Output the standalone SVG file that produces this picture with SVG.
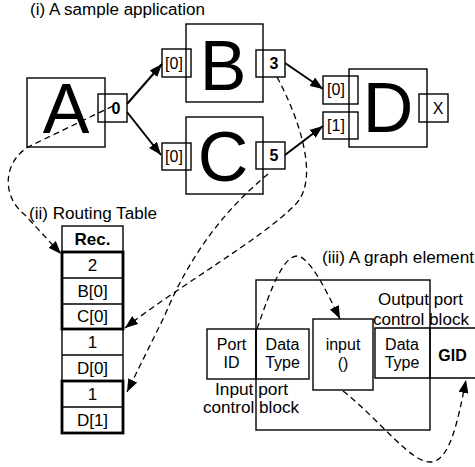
<svg xmlns="http://www.w3.org/2000/svg" width="475" height="467" viewBox="0 0 475 467">
<style>
text{font-family:"Liberation Sans",Arial,sans-serif;fill:#000}
.box{fill:none;stroke:#000;stroke-width:1.4}
.thick{fill:none;stroke:#000;stroke-width:2.8}
.big{font-size:70px;text-anchor:middle}
.port{font-size:16px;text-anchor:middle}
.pb{font-size:16px;text-anchor:middle;font-weight:bold}
.lbl{font-size:16px}
.tb{font-size:17px;text-anchor:middle}
.ge{font-size:16px;text-anchor:middle}
.solid{fill:none;stroke:#000;stroke-width:2}
.dash{fill:none;stroke:#000;stroke-width:1.3;stroke-dasharray:6,4}
</style>
<defs>
<marker id="ah" markerUnits="userSpaceOnUse" markerWidth="14" markerHeight="10" refX="13" refY="5" orient="auto">
<path d="M0,0 L13,5 L0,10 z" fill="#000"/>
</marker>
</defs>

<text class="lbl" x="30" y="15" textLength="175" lengthAdjust="spacingAndGlyphs">(i) A sample application</text>
<text class="lbl" x="29" y="219" textLength="128" lengthAdjust="spacingAndGlyphs">(ii) Routing Table</text>
<text class="lbl" x="322" y="263" textLength="152" lengthAdjust="spacingAndGlyphs">(iii) A graph element</text>

<g id="A">
<rect class="box" x="27" y="78" width="78" height="69"/>
<text class="big" x="66" y="133">A</text>
<rect class="box" x="98" y="94" width="29" height="28"/>
<text class="pb" x="116" y="114">0</text>
</g>
<g id="B">
<rect class="box" x="186" y="24" width="77" height="78"/>
<text class="big" x="223" y="90">B</text>
<rect class="box" x="162" y="49" width="29" height="28"/>
<text class="port" x="174" y="69">[0]</text>
<rect class="box" x="256" y="50" width="29" height="27"/>
<text class="pb" x="274" y="69">3</text>
</g>
<g id="C">
<rect class="box" x="186" y="117" width="77" height="77"/>
<text class="big" x="223" y="181">C</text>
<rect class="box" x="162" y="143" width="29" height="27"/>
<text class="port" x="174" y="162">[0]</text>
<rect class="box" x="256" y="142" width="29" height="27"/>
<text class="pb" x="274" y="161">5</text>
</g>
<g id="D">
<rect class="box" x="349" y="69" width="78" height="78"/>
<text class="big" x="388" y="132">D</text>
<rect class="box" x="323" y="76" width="35" height="28"/>
<text class="port" x="336" y="95">[0]</text>
<rect class="box" x="323" y="112" width="35" height="27"/>
<text class="port" x="336" y="131">[1]</text>
<rect class="box" x="419" y="94" width="29" height="28"/>
<text class="port" x="438" y="114">X</text>
</g>

<g id="routing-table">
<rect class="box" x="62" y="226" width="61" height="207"/>
<line class="box" x1="62" y1="278" x2="123" y2="278"/>
<line class="box" x1="62" y1="304" x2="123" y2="304"/>
<line class="box" x1="62" y1="355" x2="123" y2="355"/>
<line class="box" x1="62" y1="407" x2="123" y2="407"/>
<rect class="thick" x="62" y="252" width="61" height="77"/>
<rect class="thick" x="62" y="381" width="61" height="52"/>
<text class="tb" x="92.5" y="245" font-weight="bold">Rec.</text>
<text class="tb" x="92.5" y="271">2</text>
<text class="tb" x="92.5" y="297">B[0]</text>
<text class="tb" x="92.5" y="322">C[0]</text>
<text class="tb" x="92.5" y="348">1</text>
<text class="tb" x="92.5" y="374">D[0]</text>
<text class="tb" x="92.5" y="400">1</text>
<text class="tb" x="92.5" y="426">D[1]</text>
</g>

<g id="graph-element">
<rect class="box" x="256" y="280" width="174" height="150"/>
<rect class="box" x="207" y="329" width="49" height="50"/>
<rect class="box" x="256" y="329" width="53" height="50"/>
<rect class="box" x="313" y="319" width="60" height="71"/>
<path class="box" d="M480,328 H375 V378 H480"/>
<line class="box" x1="430" y1="328" x2="430" y2="378"/>
<text class="ge" x="231.5" y="350">Port</text>
<text class="ge" x="231.5" y="368">ID</text>
<text class="ge" x="282.5" y="350">Data</text>
<text class="ge" x="282.5" y="368">Type</text>
<text class="ge" x="343" y="350">input</text>
<text class="ge" x="343" y="369">()</text>
<text class="ge" x="402" y="350">Data</text>
<text class="ge" x="402" y="368">Type</text>
<text class="ge" x="452.5" y="361" font-weight="bold">GID</text>
<text class="lbl" x="378" y="305" textLength="85" lengthAdjust="spacingAndGlyphs">Output port</text>
<text class="lbl" x="373" y="325" textLength="96" lengthAdjust="spacingAndGlyphs">control block</text>
<text class="lbl" x="215" y="395" textLength="73" lengthAdjust="spacingAndGlyphs">Input port</text>
<text class="lbl" x="203" y="413" textLength="96" lengthAdjust="spacingAndGlyphs">control block</text>
</g>

<g id="connectors">
<line class="solid" x1="127" y1="104" x2="162" y2="64" marker-end="url(#ah)"/>
<line class="solid" x1="127" y1="112" x2="161" y2="155" marker-end="url(#ah)"/>
<line class="solid" x1="285" y1="63" x2="323" y2="89" marker-end="url(#ah)"/>
<line class="solid" x1="285" y1="155" x2="323" y2="126" marker-end="url(#ah)"/>
<path class="dash" d="M113,106 L30,146 C4,160 0,195 25,215 L61,254" marker-end="url(#ah)"/>
<path class="dash" d="M277,77 C300,120 320,180 295,205 C260,240 180,285 125,328" marker-end="url(#ah)"/>
<path class="dash" d="M268,174 Q200,230 165,315 L127,392" marker-end="url(#ah)"/>
<path class="dash" d="M257,329 C272,285 284,256 297,256 C310,257 326,290 340,319" marker-end="url(#ah)"/>
<path class="dash" d="M343,391 C380,420 410,462 430,462 C450,462 458,420 466,380" marker-end="url(#ah)"/>
</g>
</svg>
